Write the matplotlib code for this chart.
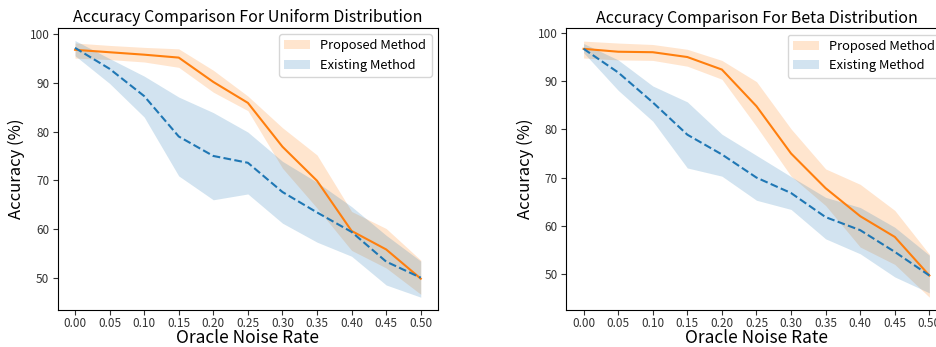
import matplotlib as mpl
import matplotlib.pyplot as plt
import numpy as np

mpl.rcParams.update(
    {
        "font.family": ["Noto Sans CJK JP", "DejaVu Sans"],
        "xtick.labelsize": 8.5,
        "ytick.labelsize": 8.5,
        "xtick.major.pad": 1.5,
        "ytick.major.pad": 2.5,
        "legend.fontsize": 9.3,
    }
)

noise = [0.00, 0.05, 0.10, 0.15, 0.20, 0.25, 0.30, 0.35, 0.40, 0.45, 0.50]

# uniform distribution
uni_prop_mean = [96.8, 96.3, 95.8, 95.2, 90.2, 85.9, 76.9, 69.9, 59.6, 55.8, 49.8]
uni_prop_upper = [98.2, 97.7, 97.3, 97.0, 92.6, 87.3, 80.8, 75.2, 63.6, 60.1, 53.6]
uni_prop_lower = [95.1, 94.8, 94.3, 93.2, 88.1, 84.3, 72.5, 64.3, 55.6, 52.0, 46.6]
uni_exist_mean = [97.2, 92.9, 87.3, 79.0, 75.0, 73.6, 67.6, 63.4, 59.4, 53.3, 50.0]
uni_exist_upper = [98.7, 95.0, 91.4, 87.1, 83.9, 79.9, 73.9, 69.6, 64.6, 58.7, 53.4]
uni_exist_lower = [95.6, 89.9, 83.0, 70.9, 66.0, 67.2, 61.2, 57.3, 54.4, 48.5, 46.0]

# beta distribution
beta_prop_mean = [96.7, 96.1, 96.0, 95.0, 92.4, 84.8, 75.0, 67.8, 62.0, 57.7, 49.7]
beta_prop_upper = [98.3, 97.9, 97.6, 96.6, 94.3, 89.9, 80.1, 71.8, 68.6, 63.2, 54.1]
beta_prop_lower = [94.8, 94.4, 94.3, 93.1, 90.4, 80.6, 70.3, 64.2, 55.6, 52.0, 45.2]
beta_exist_mean = [96.7, 91.8, 85.6, 78.9, 74.8, 70.0, 66.8, 61.8, 59.1, 54.6, 49.7]
beta_exist_upper = [97.8, 94.4, 89.0, 85.7, 79.0, 74.6, 70.2, 65.9, 63.8, 59.7, 53.9]
beta_exist_lower = [95.9, 88.1, 81.7, 72.0, 70.3, 65.3, 63.4, 57.3, 54.2, 49.4, 46.1]

ORANGE = "#ff7f0e"
BLUE = "#1f77b4"


def draw(ax, title, pm, pu, pl, em, eu, el):
    ax.fill_between(noise, pl, pu, color=ORANGE, alpha=0.2, linewidth=0, label="Proposed Method")
    ax.fill_between(noise, el, eu, color=BLUE, alpha=0.2, linewidth=0, label="Existing Method")
    ax.plot(noise, pm, color=ORANGE, lw=1.5)
    ax.plot(noise, em, color=BLUE, lw=1.5, ls="--")
    ax.set_xticks(noise, [f"{v:.2f}" for v in noise])
    ax.set_yticks([50, 60, 70, 80, 90, 100])
    ax.tick_params(colors="#333333", labelcolor="#333333")
    ax.set_title(title, fontsize=11.5, pad=4)
    ax.set_xlabel("Oracle Noise Rate", fontsize=12.5, labelpad=-1)
    ax.set_ylabel("Accuracy (%)", fontsize=12, labelpad=3)
    ax.legend(loc="upper right")


fig = plt.figure(figsize=(9.37, 3.47), dpi=100)
ax0 = fig.add_axes([0.0616, 0.1066, 0.4059, 0.8135])
ax1 = fig.add_axes([0.6044, 0.1066, 0.4059, 0.8118])

draw(ax0, "Accuracy Comparison For Uniform Distribution",
     uni_prop_mean, uni_prop_upper, uni_prop_lower,
     uni_exist_mean, uni_exist_upper, uni_exist_lower)
draw(ax1, "Accuracy Comparison For Beta Distribution",
     beta_prop_mean, beta_prop_upper, beta_prop_lower,
     beta_exist_mean, beta_exist_upper, beta_exist_lower)

fig.savefig("out.png", dpi=100)
